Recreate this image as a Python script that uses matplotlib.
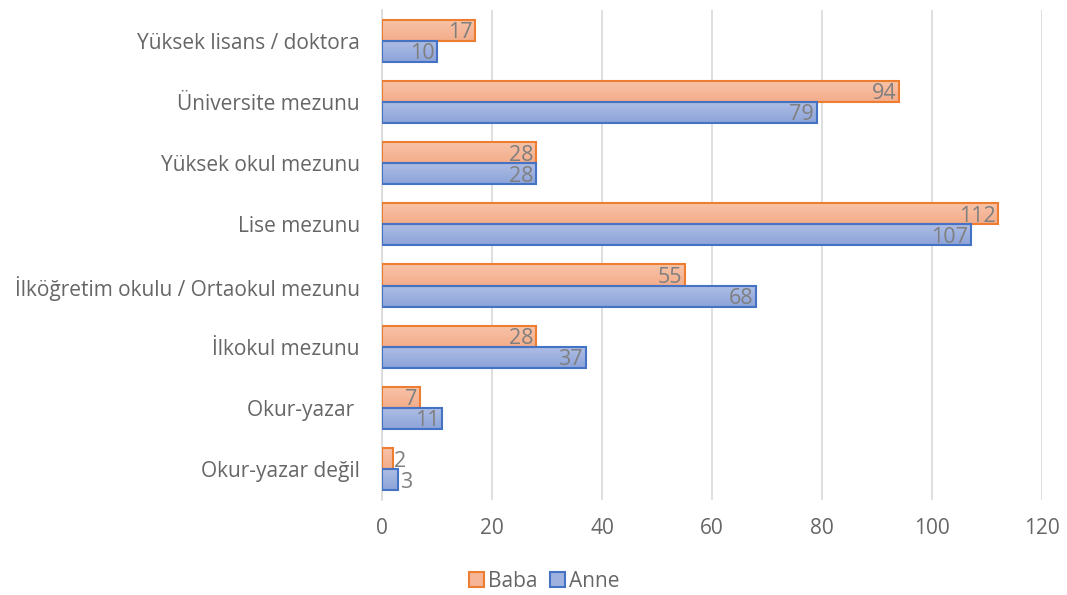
import matplotlib
matplotlib.use("Agg")
import matplotlib.pyplot as plt
import numpy as np

categories = ["Okur-yazar değil", "Okur-yazar ", "İlkokul mezunu",
              "İlköğretim okulu / Ortaokul mezunu", "Lise mezunu",
              "Yüksek okul mezunu", "Üniversite mezunu", "Yüksek lisans / doktora"]
baba = [2, 7, 28, 55, 112, 28, 94, 17]
anne = [3, 11, 37, 68, 107, 28, 79, 10]
xticks = [0, 20, 40, 60, 80, 100, 120]

plt.rcParams['font.family'] = ['Open Sans', 'DejaVu Sans']

fig = plt.figure(figsize=(10.67, 5.95), dpi=100)
ax = fig.add_axes([0.358, 0.16, 0.6186, 0.823])

y = np.arange(len(categories))
h = 0.345
bb = ax.barh(y + h/2, baba, height=h, color="#F5B596", edgecolor="#ED7D31", linewidth=1.5, label="Baba", zorder=3)
ba = ax.barh(y - h/2, anne, height=h, color="#9FB2DF", edgecolor="#4472C4", linewidth=1.5, label="Anne", zorder=3)

def gradient(bars, top, bottom):
    from matplotlib.colors import LinearSegmentedColormap
    cmap = LinearSegmentedColormap.from_list("g", [bottom, top])
    grad = np.linspace(0, 1, 64).reshape(-1, 1)
    for b in bars:
        x0, y0 = b.get_x(), b.get_y()
        w, hh = b.get_width(), b.get_height()
        im = ax.imshow(grad, cmap=cmap, aspect="auto", origin="lower",
                       extent=(x0, x0 + w, y0, y0 + hh), zorder=3.1, interpolation="bilinear")
        im.set_clip_path(b)
        b.set_facecolor("none")
        b.set_zorder(3.2)

gradient(bb, "#F8C3A8", "#F3AD8B")
gradient(ba, "#AEBEE5", "#8DA4D9")

def labels(bars, vals):
    for b, v in zip(bars, vals):
        yc = b.get_y() + b.get_height()/2
        if v < 5:
            ax.text(v + 0.2, yc - 0.04, str(v), ha="left", va="center", fontsize=15.5, color="#7F7F7F", zorder=4)
        else:
            ax.text(v - 0.5, yc - 0.04, str(v), ha="right", va="center", fontsize=15.5, color="#7F7F7F", zorder=4)

labels(bb, baba)
labels(ba, anne)

ax.set_xlim(0, 120)
ax.set_ylim(-0.5, len(categories) - 0.5)
ax.set_xticks(xticks)
ax.set_yticks(y)
ax.set_yticklabels(categories)
ax.tick_params(axis="both", length=0, labelsize=15, colors="#666666")
ax.tick_params(axis="x", pad=13)
ax.tick_params(axis="y", pad=16)
ax.grid(axis="x", color="#D9D9D9", linewidth=1.2, zorder=0)
for s in ["top", "right", "bottom"]:
    ax.spines[s].set_visible(False)
ax.spines["left"].set_color("#D9D9D9")
ax.spines["left"].set_linewidth(1.2)

from matplotlib.patches import Patch
handles = [Patch(facecolor="#F5B596", edgecolor="#ED7D31", linewidth=1.5),
           Patch(facecolor="#9FB2DF", edgecolor="#4472C4", linewidth=1.5)]
leg = fig.legend(handles=handles, labels=["Baba", "Anne"], loc="center", bbox_to_anchor=(0.51, 0.023),
                 ncol=2, frameon=False, fontsize=15, handlelength=0.7, handleheight=0.7,
                 handletextpad=0.2, columnspacing=0.6, labelcolor="#666666")

fig.savefig("out.png", dpi=100)
